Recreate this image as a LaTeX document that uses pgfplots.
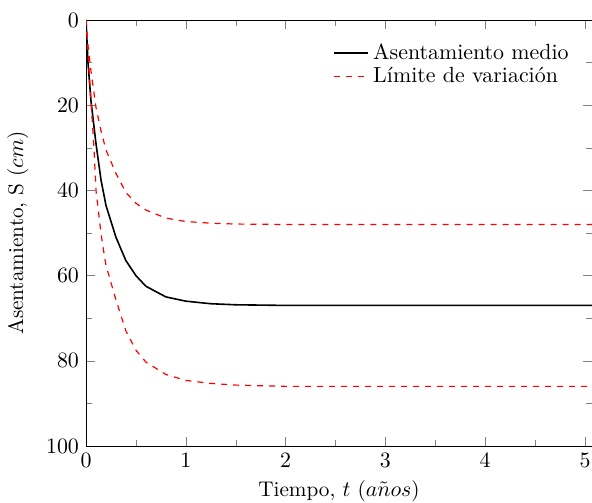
\documentclass[border=0pt]{standalone}
\usepackage{pgfplots}
\pgfplotsset{compat=1.18}
\begin{document}
\begin{tikzpicture}
\begin{axis}[
  scale only axis,
  width=253pt, height=213pt,
  xmin=0, xmax=5.07,
  ymin=0, ymax=100,
  y dir=reverse,
  xtick={0,1,2,3,4,5},
  ytick={0,20,40,60,80,100},
  minor x tick num=1,
  minor y tick num=1,
  tick align=inside,
  tick label style={font=\fontsize{10.5}{12}\selectfont},
  label style={font=\fontsize{10.6}{12.5}\selectfont},
  ylabel shift=2pt,
  xlabel={Tiempo, $t$ ($a\tilde{n}os$)},
  ylabel={Asentamiento, S ($cm$)},
  legend style={draw=none, fill=none, at={(1,1)}, anchor=north east,
    xshift=-6.5pt, yshift=-7.5pt, font=\fontsize{10.95}{12.5}\selectfont, row sep=-1.5pt},
  legend cell align=left,
]
\addplot[black, thick] coordinates {
(0,0) (0.02,10) (0.05,19) (0.1,29) (0.15,37.5) (0.2,43.5) (0.3,51) (0.4,56.5)
(0.5,60) (0.6,62.5) (0.8,65) (1.0,66) (1.25,66.6) (1.5,66.85) (2,67) (3,67) (4,67) (5.07,67)
};
\addlegendentry{Asentamiento medio}
\addplot[red, semithick, dashed] coordinates {
(0,0) (0.02,6) (0.05,12) (0.1,20.5) (0.15,26) (0.2,30.5) (0.3,36) (0.4,40.5)
(0.5,43) (0.6,44.6) (0.8,46.5) (1.0,47.3) (1.25,47.7) (1.5,47.9) (2,48) (3,48) (4,48) (5.07,48)
};
\addlegendentry{L\'imite de variaci\'on}
\addplot[red, semithick, dashed, forget plot] coordinates {
(0,0) (0.02,8) (0.05,19) (0.08,30) (0.1,40) (0.12,44) (0.15,50) (0.175,54) (0.2,57.5) (0.23,60)
(0.3,65.7) (0.4,73) (0.5,77.5) (0.6,80.3) (0.8,83.2) (1.0,84.6) (1.25,85.3) (1.5,85.7) (2,86) (3,86) (4,86) (5.07,86)
};
\end{axis}
\pgfresetboundingbox
\path[use as bounding box] ([xshift=-43pt,yshift=10pt]current axis.north west) rectangle ([yshift=-28pt]current axis.south east);
\end{tikzpicture}
\end{document}
